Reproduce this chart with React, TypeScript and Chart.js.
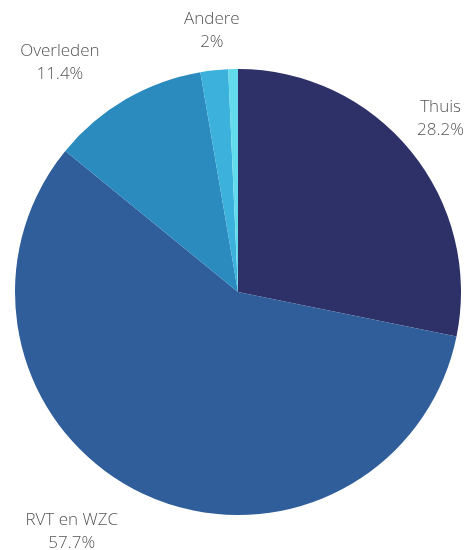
import React, { useEffect, useRef } from "react";
import { Chart, registerables } from "chart.js";

Chart.register(...registerables);

// Verblijfplaats na ontslag (percentages)
const categories = ["Thuis", "RVT en WZC", "Overleden", "Andere", "Onbekend"];
const shares = [28.2, 57.7, 11.4, 2, 0.7];
const sliceColors = ["#2e3168", "#2f5e9b", "#2b8bbf", "#3bb1dc", "#62dcec"];

const formatPct = (v: number) => (Number.isInteger(v) ? `${v}%` : `${v.toFixed(1)}%`);

// Category name + percentage outside each slice (small slices are left unlabelled).
// The label box corner nearest to the pie sits just outside the rim on the slice's mid-angle,
// with side labels pushed a little further out horizontally.
const outsideLabels = {
  id: "outsideLabels",
  afterDraw(chart: any) {
    const { ctx, width } = chart;
    const meta = chart.getDatasetMeta(0);
    const values = chart.data.datasets[0].data as number[];
    const lineGap = 23;
    const halfCap = 6.5;
    const sideGap = 15;
    ctx.save();
    ctx.font = "300 17px 'Open Sans', sans-serif";
    ctx.fillStyle = "#555555";
    ctx.textBaseline = "middle";
    ctx.textAlign = "center";
    meta.data.forEach((arc: any, i: number) => {
      const v = values[i];
      if (v < 1) return;
      const mid = (arc.startAngle + arc.endAngle) / 2;
      const r = arc.outerRadius + 22;
      const qx = arc.x + Math.cos(mid) * r;
      const qy = arc.y + Math.sin(mid) * r;
      const lines = [chart.data.labels[i] as string, formatPct(v)];
      const w = Math.max(...lines.map((l) => ctx.measureText(l).width));
      const c = Math.cos(mid);
      const s = Math.sin(mid);
      let left = c > 0.2 ? qx + sideGap : c < -0.2 ? qx - w - sideGap : qx - w / 2;
      left = Math.max(4, Math.min(width - 4 - w, left));
      const cx = left + w / 2;
      let y1: number;
      if (s < -0.2) y1 = qy - halfCap - lineGap;
      else if (s > 0.2) y1 = qy + halfCap;
      else y1 = qy - lineGap / 2;
      ctx.fillText(lines[0], cx, y1);
      ctx.fillText(lines[1], cx, y1 + lineGap);
    });
    ctx.restore();
  },
};

export default function App() {
  const ref = useRef<HTMLCanvasElement>(null);

  useEffect(() => {
    if (!ref.current) return;
    const chart = new Chart(ref.current, {
      type: "pie",
      data: {
        labels: categories,
        datasets: [
          {
            data: shares,
            backgroundColor: sliceColors,
            borderWidth: 0,
          },
        ],
      },
      options: {
        animation: false,
        responsive: false,
        layout: { padding: { left: 15, right: 7, top: 69, bottom: 35 } },
        plugins: {
          legend: { display: false },
          tooltip: { enabled: false },
        },
      },
      plugins: [outsideLabels],
    });
    return () => chart.destroy();
  }, []);

  return (
    <div style={{ position: "absolute", left: 0, top: 0, width: 468, height: 550, background: "#fff" }}>
      <canvas ref={ref} width={468} height={550} />
    </div>
  );
}
